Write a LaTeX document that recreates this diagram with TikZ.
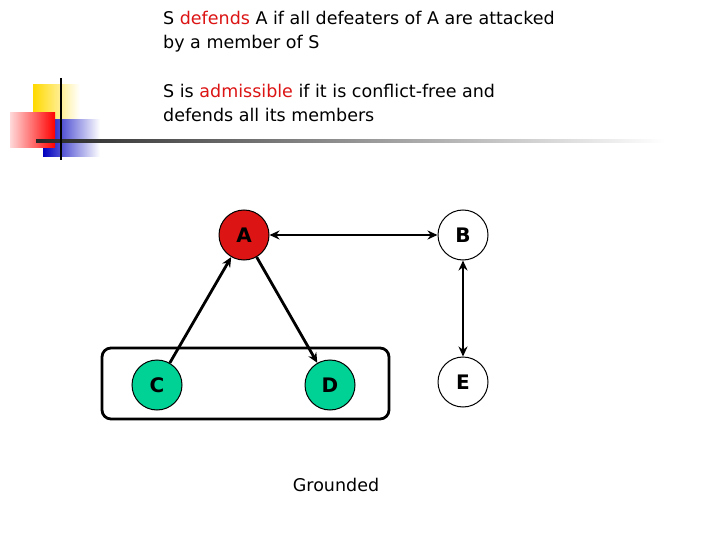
\documentclass[tikz,border=0pt]{standalone}
\usepackage{fontspec}
\setmainfont{DejaVu Sans}
\usetikzlibrary{arrows.meta,shadings}
\definecolor{dred}{RGB}{220,20,20}
\definecolor{ngreen}{RGB}{0,210,150}
\begin{document}
\begin{tikzpicture}[x=1pt,y=-1pt,
  vert/.style={circle,draw,line width=1pt,minimum size=50pt,inner sep=0pt,font=\fontsize{20}{22}\selectfont\bfseries},
  edge/.style={line width=2.8pt,-{Stealth[length=10pt,width=9pt]}},
  bedge/.style={line width=2.8pt,{Stealth[length=10pt,width=9pt]}-{Stealth[length=10pt,width=9pt]}},
  txt/.style={anchor=north west,align=left,font=\fontsize{17.5}{24}\selectfont,inner sep=0pt}]
\useasboundingbox (0,0) rectangle (720,540);
\fill[white] (0,0) rectangle (720,540);
% logo
\shade[left color=yellow!70!orange,right color=white] (33,85) rectangle (80,135);
\shade[left color=blue!75!black,right color=white] (43,120) rectangle (100,157);
\shade[left color=red!15,right color=red] (10,113) rectangle (55,148);
\shade[left color=black!85,right color=white] (36,140) rectangle (665,142.5);
\draw[line width=2.5pt] (61,78) -- (61,160);
% text
\node[txt] (t1) at (163,11) {S \textcolor{dred}{defends} A if all defeaters of A are attacked\\by a member of S};
\node[txt] (t2) at (163,84) {S is \textcolor{dred}{admissible} if it is conflict-free and\\defends all its members};
% box
\node[draw,line width=2.8pt,rounded corners=9pt,minimum width=287pt,minimum height=71pt] (box) at (245.5,383.5) {};
% nodes
\node[vert,fill=dred] (A) at (244,235) {A};
\node[vert,fill=white] (B) at (463,235) {B};
\node[vert,fill=ngreen] (C) at (157,385) {C};
\node[vert,fill=ngreen] (D) at (330,385) {D};
\node[vert,fill=white] (E) at (463,382) {E};
\node[font=\fontsize{17.5}{20}\selectfont] (g) at (336,485) {Grounded};
\draw[bedge] (A) -- (B);
\draw[bedge] (B) -- (E);
\draw[edge] (C) -- (A);
\draw[edge] (A) -- (D);
\end{tikzpicture}
\end{document}
